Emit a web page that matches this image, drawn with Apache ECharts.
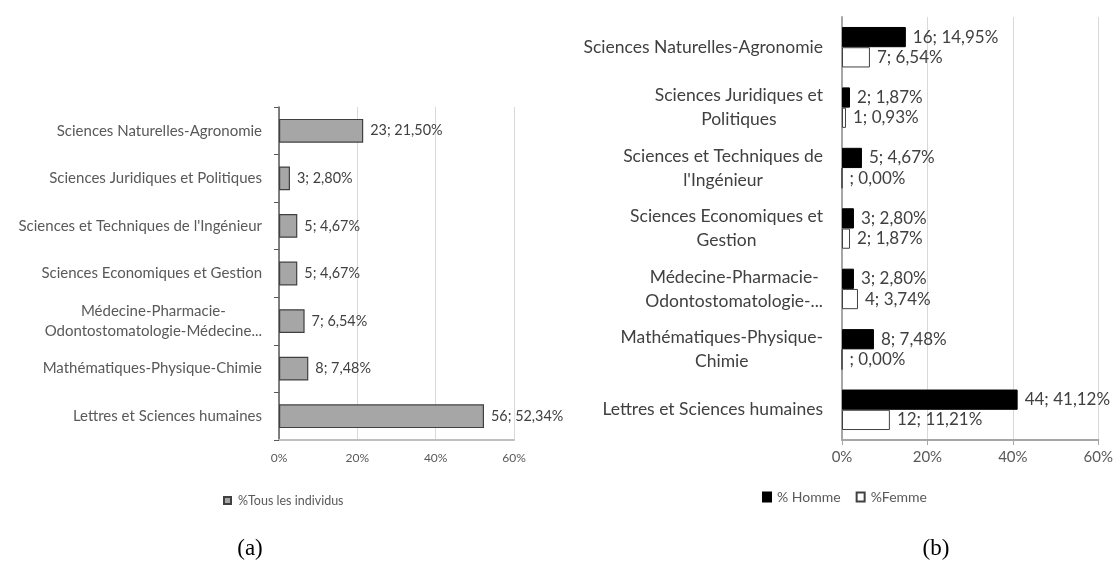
<!DOCTYPE html>
<html>
<head>
<meta charset="utf-8">
<script src="https://cdn.jsdelivr.net/npm/echarts@6/dist/echarts.min.js"></script>
<style>html,body{margin:0;padding:0;background:#fff}#c{width:1116px;height:565px}</style>
</head>
<body>
<div id="c"></div>
<script>
const categoriesA = ["Sciences Naturelles-Agronomie","Sciences Juridiques et Politiques","Sciences et Techniques de l'Ingénieur","Sciences Economiques et Gestion","Médecine-Pharmacie-\nOdontostomatologie-Médecine...","Mathématiques-Physique-Chimie","Lettres et Sciences humaines"];
const categoriesB = ["Sciences Naturelles-Agronomie","Sciences Juridiques et\nPolitiques","Sciences et Techniques de\nl'Ingénieur","Sciences Economiques et\nGestion","Médecine-Pharmacie-\nOdontostomatologie-...","Mathématiques-Physique-\nChimie","Lettres et Sciences humaines"];
const totalCounts = [23, 3, 5, 5, 7, 8, 56];
const totalPct = [21.50, 2.80, 4.67, 4.67, 6.54, 7.48, 52.34];
const hommeCounts = [16, 2, 5, 3, 3, 8, 44];
const hommePct = [14.95, 1.87, 4.67, 2.80, 2.80, 7.48, 41.12];
const femmeCounts = [7, 1, null, 2, 4, null, 12];
const femmePct = [6.54, 0.93, 0.00, 1.87, 3.74, 0.00, 11.21];
const xTicks = [0, 20, 40, 60];

const fmt = v => v.toFixed(2).replace('.', ',') + '%';
const lab = (counts, pct) => p => (counts[p.dataIndex] == null ? '' : counts[p.dataIndex]) + '; ' + fmt(pct[p.dataIndex]);
const centered = v => v.split('\n').map(l => '{c|' + l + '}').join('\n');
const FONT = 'Lato';

const chart = echarts.init(document.getElementById('c'));
chart.setOption({
  animation: false,
  backgroundColor: '#fff',
  textStyle: {fontFamily: FONT},
  title: [
    {text: '(a)', left: 245, top: 532, textAlign: 'center', textStyle: {fontFamily: 'Liberation Serif', fontSize: 23, fontWeight: 'normal', color: '#000'}},
    {text: '(b)', left: 931, top: 532, textAlign: 'center', textStyle: {fontFamily: 'Liberation Serif', fontSize: 23, fontWeight: 'normal', color: '#000'}}
  ],
  legend: [
    {data: ['%Tous les individus'], icon: 'rect', left: 218, top: 489, itemWidth: 7, itemHeight: 7, itemGap: 4,
     textStyle: {fontSize: 12.5, color: '#595959', fontFamily: FONT, padding: [0,0,0,2]}},
    {data: ['% Homme', '%Femme'], icon: 'rect', left: 757, top: 485, itemWidth: 8, itemHeight: 9, itemGap: 15,
     textStyle: {fontSize: 14, color: '#595959', fontFamily: FONT, padding: [0,0,0,1]}}
  ],
  grid: [
    {left: 279, width: 235, top: 107, height: 333},
    {left: 842, width: 259, top: 17, height: 423}
  ],
  xAxis: [
    {gridIndex: 0, type: 'value', min: 0, max: 60, interval: 20,
     axisLine: {show: true, lineStyle: {color: '#bfbfbf', width: 2}},
     axisTick: {show: false},
     splitLine: {show: true, lineStyle: {color: '#d9d9d9'}},
     axisLabel: {formatter: '{value}%', fontSize: 12, color: '#595959', margin: 12}},
    {gridIndex: 1, type: 'value', min: 0, max: 60, interval: 20,
     axisLine: {show: true, lineStyle: {color: '#a6a6a6', width: 2}},
     axisTick: {show: true, length: 5, lineStyle: {color: '#a6a6a6'}},
     splitLine: {show: true, lineStyle: {color: '#d9d9d9'}},
     axisLabel: {formatter: '{value}%', fontSize: 15, color: '#595959', margin: 10}}
  ],
  yAxis: [
    {gridIndex: 0, type: 'category', inverse: true, data: categoriesA,
     axisLine: {show: true, lineStyle: {color: '#595959', width: 1.5}},
     axisTick: {show: true, length: 5, lineStyle: {color: '#595959'}},
     axisLabel: {fontSize: 15, color: '#595959', margin: 17, lineHeight: 20, formatter: centered,
       rich: {c: {align: 'center', fontSize: 15, color: '#595959', fontFamily: FONT, lineHeight: 20}}}},
    {gridIndex: 1, type: 'category', inverse: true, data: categoriesB,
     axisLine: {show: true, lineStyle: {color: '#a6a6a6', width: 2}},
     axisTick: {show: false},
     axisLabel: {fontSize: 17.5, color: '#404040', margin: 19, lineHeight: 24, formatter: centered,
       rich: {c: {align: 'center', fontSize: 17.5, color: '#404040', fontFamily: FONT, lineHeight: 24}}}}
  ],
  series: [
    {name: '%Tous les individus', type: 'bar', xAxisIndex: 0, yAxisIndex: 0, data: totalPct,
     barCategoryGap: '50%',
     itemStyle: {color: '#a6a6a6', borderColor: '#404040', borderWidth: 1.2},
     label: {show: true, position: 'right', distance: 7, fontSize: 14.4, color: '#404040', formatter: lab(totalCounts, totalPct)}},
    {name: '% Homme', type: 'bar', xAxisIndex: 1, yAxisIndex: 1, data: hommePct,
     barGap: '0%', barCategoryGap: '33%',
     itemStyle: {color: '#000000', borderColor: '#000000', borderWidth: 1},
     label: {show: true, position: 'right', distance: 7, fontSize: 17, color: '#404040', formatter: lab(hommeCounts, hommePct)}},
    {name: '%Femme', type: 'bar', xAxisIndex: 1, yAxisIndex: 1, data: femmePct,
     barGap: '0%', barCategoryGap: '33%',
     itemStyle: {color: '#ffffff', borderColor: '#404040', borderWidth: 1},
     label: {show: true, position: 'right', distance: 7, fontSize: 17, color: '#404040', formatter: lab(femmeCounts, femmePct)}}
  ]
});
</script>
</body>
</html>
